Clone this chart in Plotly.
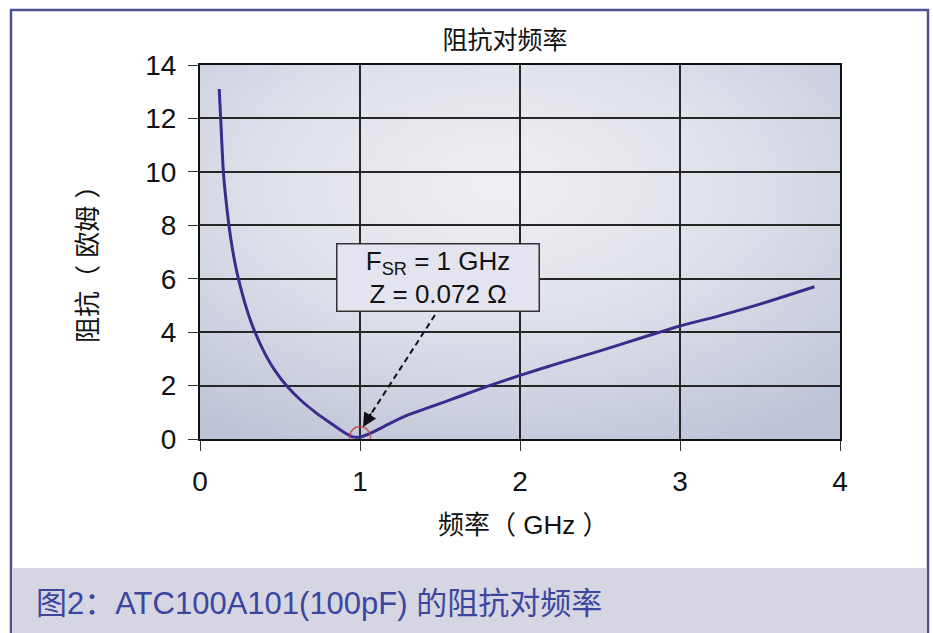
import base64
import plotly.graph_objects as go

# ---- data ----
freq_ghz = [0.12, 0.13, 0.146, 0.165, 0.19, 0.215, 0.24, 0.29, 0.34, 0.41, 0.47, 0.54, 0.63,
            0.73, 0.81, 0.90, 0.95, 1.0, 1.06, 1.2, 1.3, 1.45, 1.625, 1.8, 2.0,
            2.25, 2.5, 2.75, 3.0, 3.25, 3.5, 3.84]
impedance_ohm = [13.1, 11.9, 10.0, 8.8, 7.6, 6.7, 6.0, 4.9, 4.05, 3.15, 2.55, 2.0, 1.45,
                 0.96, 0.62, 0.25, 0.09, 0.072, 0.2, 0.62, 0.9, 1.22, 1.6, 1.98, 2.38,
                 2.85, 3.3, 3.77, 4.23, 4.62, 5.05, 5.70]
srf_freq = [1.0]
srf_z = [0.072]
x_ticks = [0, 1, 2, 3, 4]
y_ticks = [0, 2, 4, 6, 8, 10, 12, 14]

title_text = "阻抗对频率"
x_title = "频率（ GHz ）"
y_title = "阻抗（ 欧姆 ）"
note_text = "F<sub>SR</sub> = 1 GHz<br>Z = 0.072 Ω"
caption_text = "图2：ATC100A101(100pF) 的阻抗对频率"

W, H = 933, 633
L, R, T, B = 200, 840, 65, 439  # plot area px


def px_x(p):
    return (p - L) / (R - L)


def px_y(p):
    return (B - p) / (B - T)


FONT = "Liberation Sans, Arial, Noto Sans CJK SC, sans-serif"

svg = """<svg xmlns='http://www.w3.org/2000/svg' width='640' height='374' preserveAspectRatio='none'>
<defs><radialGradient id='g' cx='0.47' cy='0.32' r='0.78'>
<stop offset='0' stop-color='#efeff2'/>
<stop offset='0.45' stop-color='#e0e2ea'/>
<stop offset='1' stop-color='#bec4d8'/>
</radialGradient></defs>
<rect x='0' y='0' width='640' height='374' fill='url(#g)'/></svg>"""
svg_uri = "data:image/svg+xml;base64," + base64.b64encode(svg.encode()).decode()

fig = go.Figure()
fig.add_trace(go.Scatter(
    x=freq_ghz, y=impedance_ohm, mode="lines",
    line=dict(color="#3b2c8c", width=3, shape="spline", smoothing=0.6),
    hoverinfo="skip", showlegend=False))
fig.add_trace(go.Scatter(
    x=srf_freq, y=srf_z, mode="markers",
    marker=dict(symbol="circle-open", size=21, color="rgba(190,70,70,0.85)",
                line=dict(width=1.5)),
    hoverinfo="skip", showlegend=False))

axis_common = dict(showgrid=True, gridcolor="#262626", gridwidth=1.5,
                   showline=True, linecolor="#111111", linewidth=2, mirror=True,
                   ticks="outside", ticklen=10, tickcolor="#333333", tickwidth=1.2,
                   zeroline=False, tickfont=dict(family=FONT, size=28, color="#111111"))

fig.update_layout(
    width=W, height=H, autosize=False,
    margin=dict(l=L, r=W - R, t=T, b=H - B),
    paper_bgcolor="#ffffff", plot_bgcolor="#e4e5ec",
    xaxis=dict(range=[0, 4], tickvals=x_ticks, ticklabelstandoff=6, **axis_common),
    yaxis=dict(range=[0, 14], tickvals=y_ticks, ticklabelstandoff=6, **axis_common),
    title=dict(text=title_text, x=px_x(505), xref="paper", xanchor="center",
               y=1 - 40 / H, yref="container", yanchor="middle",
               font=dict(family=FONT, size=25, color="#111111")),
    images=[dict(source=svg_uri, xref="x", yref="y", x=0, y=14, sizex=4, sizey=14,
                 sizing="stretch", layer="below")],
    shapes=[
        # outer frame
        dict(type="rect", xref="paper", yref="paper",
             x0=px_x(11), x1=px_x(928), y0=px_y(650), y1=px_y(10),
             line=dict(color="#4f5090", width=2.5), fillcolor="rgba(0,0,0,0)", layer="below"),
        # caption band
        dict(type="rect", xref="paper", yref="paper",
             x0=px_x(12), x1=px_x(927), y0=px_y(650), y1=px_y(568),
             line=dict(width=0), fillcolor="#d6d6e2", layer="below"),
        # dashed arrow shaft
        dict(type="line", xref="x", yref="y",
             x0=(435 - L) / 160, y0=(B - 315) / 26.714,
             x1=(369 - L) / 160, y1=(B - 417) / 26.714,
             line=dict(color="#111111", width=2, dash="6px,4px"), layer="above"),
    ],
    annotations=[
        dict(text=note_text, xref="x", yref="y", x=(437.5 - L) / 160, y=(B - 277) / 26.714,
             showarrow=False, xanchor="center", yanchor="middle",
             width=197, height=62, borderpad=2, bgcolor="#e4e4f0",
             bordercolor="#333333", borderwidth=1.5,
             font=dict(family=FONT, size=26, color="#111111")),
        # arrow head
        dict(text="", xref="x", yref="y", x=(363 - L) / 160, y=(B - 427) / 26.714,
             showarrow=True, arrowhead=2, arrowsize=1.4, arrowwidth=2, arrowcolor="#111111",
             ax=9, ay=-15, axref="pixel", ayref="pixel", standoff=0),
        dict(text=y_title, xref="paper", yref="paper", x=px_x(88), y=px_y(258),
             textangle=-90, showarrow=False, xanchor="center", yanchor="middle",
             font=dict(family=FONT, size=26, color="#111111")),
        dict(text=x_title, xref="paper", yref="paper", x=px_x(523), y=px_y(525),
             showarrow=False, xanchor="center", yanchor="middle",
             font=dict(family=FONT, size=26, color="#111111")),
        dict(text=caption_text, xref="paper", yref="paper", x=px_x(34), y=px_y(603),
             showarrow=False, xanchor="left", yanchor="middle",
             font=dict(family=FONT, size=31, color="#3a46a0")),
    ],
)

fig.write_html("out.html", post_script="document.body.style.margin='0';",
               config={"displayModeBar": False})
